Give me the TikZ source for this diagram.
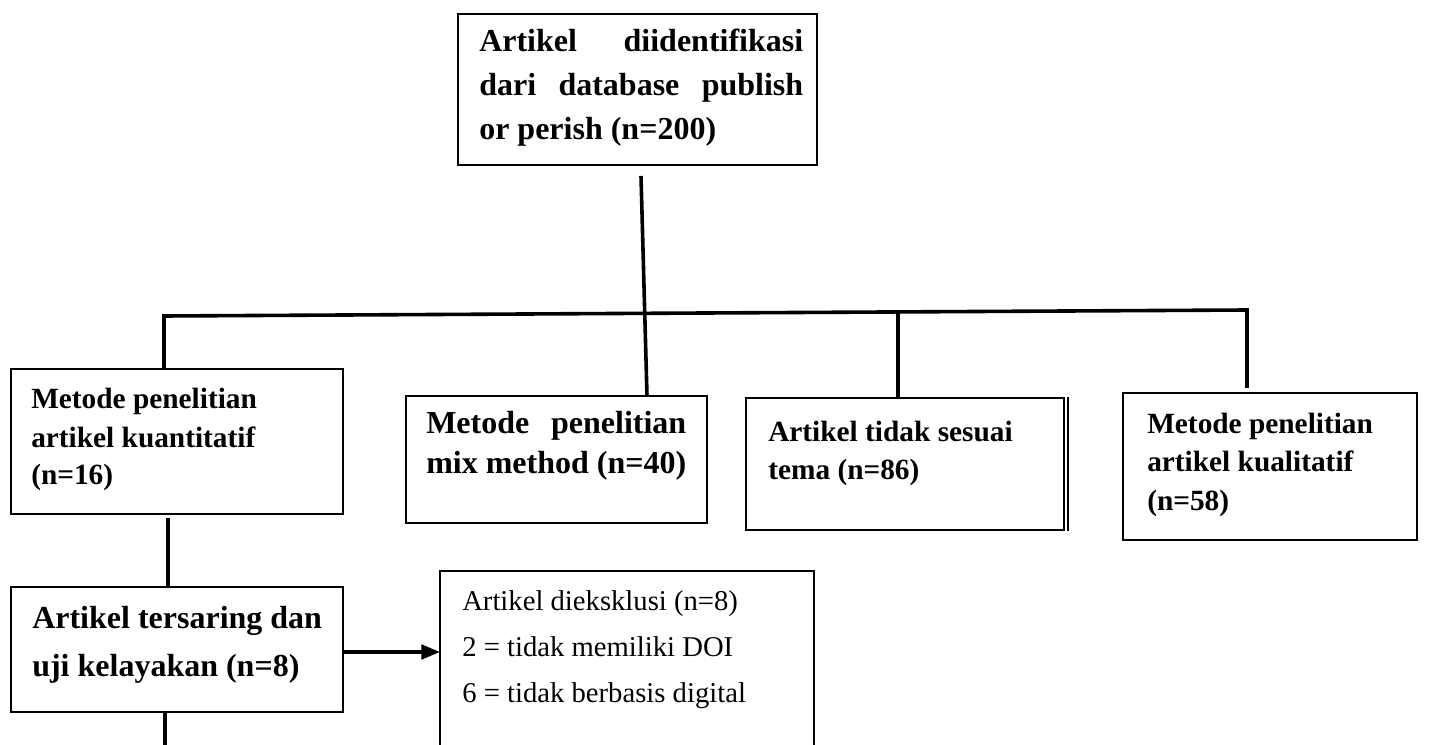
\documentclass[tikz,border=0pt]{standalone}
\usepackage{fontspec}
\setmainfont{Liberation Serif}
\usetikzlibrary{arrows.meta,fit}
\begin{document}
\begin{tikzpicture}[x=0.75pt,y=-0.75pt,
  box/.style={draw=black, line width=1.2pt, rectangle, inner sep=0pt},
  conn/.style={line width=2.7pt, black},
  lbl/.style={anchor=base west, inner sep=0pt},
  bigb/.style={font=\bfseries\fontsize{24}{33}\selectfont},
  midb/.style={font=\bfseries\fontsize{22}{29}\selectfont},
  regt/.style={font=\fontsize{21.5}{34.5}\selectfont},
]
\clip (0,0) rectangle (1429,745);
\fill[white] (0,0) rectangle (1429,745);

% boxes
\node[box, line width=1.5pt, fit={(458,14) (817,165)}] (top) {};
\node[box, fit={(11,369) (343,514)}] (kuant) {};
\node[box, fit={(406,396) (707,523)}] (mix) {};
\node[box, fit={(746,398) (1064,530)}] (tidak) {};
\draw[line width=1.2pt] (tidak.north east) ++(3,0) -- ([xshift=3*0.75pt]tidak.south east);
\node[box, line width=1.8pt, fit={(1123,393) (1417,540)}] (kual) {};
\node[box, fit={(11,587) (343,712)}] (ters) {};
\node[box, fit={(440,571) (814,780)}] (excl) {};

% texts
\node[lbl, bigb] (ttop) at (479,52) {\parbox[t]{243pt}{\bfseries Artikel\hfill diidentifikasi\\ dari\hfill database\hfill publish\\ or perish (n=200)}};
\node[lbl, midb, font=\bfseries\fontsize{22}{28.5}\selectfont] (tkuant) at (31,409) {\parbox[t]{260pt}{\bfseries Metode penelitian\\ artikel kuantitatif\\ (n=16)}};
\node[lbl, bigb, font=\bfseries\fontsize{24}{30}\selectfont] (tmix) at (426,434) {\parbox[t]{195pt}{\bfseries Metode\hfill penelitian\\ mix method (n=40)}};
\node[lbl, midb, font=\bfseries\fontsize{22}{28.5}\selectfont] (ttidak) at (768,441) {\parbox[t]{230pt}{\bfseries Artikel tidak sesuai\\ tema (n=86)}};
\node[lbl, midb] (tkual) at (1147,433) {\parbox[t]{230pt}{\bfseries Metode penelitian\\ artikel kualitatif\\ (n=58)}};
\node[lbl, bigb, font=\bfseries\fontsize{24}{36}\selectfont] (tters) at (32,628) {\parbox[t]{260pt}{\bfseries Artikel tersaring dan\\ uji kelayakan (n=8)}};
\node[lbl, regt] (texcl) at (462,610) {\parbox[t]{270pt}{Artikel dieksklusi (n=8)\\ 2 = tidak memiliki DOI\\ 6 = tidak berbasis digital}};

% connector coordinates
\coordinate (t0) at (641,176);
\coordinate (m1) at (647,396);
\coordinate (bl) at (164,316);
\coordinate (br) at (1247,310);
\coordinate (k1) at (164,369);
\coordinate (d3a) at (898,312);
\coordinate (d3b) at (898,398);
\coordinate (d4b) at (1247,388);
\coordinate (k2) at (168,518);
\coordinate (k3) at (168,587);
\coordinate (e1) at (165,713);
\coordinate (e2) at (165,760);
\coordinate (a1) at (343,652);
\coordinate (a2) at (440,652);

\draw[conn] (t0) -- (m1);
\draw[conn, line cap=rect] (bl) -- (br);
\draw[conn] (bl) -- (k1);
\draw[conn] (d3a) -- (d3b);
\draw[conn] (br) -- (d4b);
\draw[conn] (k2) -- (k3);
\draw[conn] (e1) -- (e2);
\draw[line width=2.4pt, -{Triangle[length=14pt,width=11pt]}] (a1) -- (a2);
\end{tikzpicture}
\end{document}
